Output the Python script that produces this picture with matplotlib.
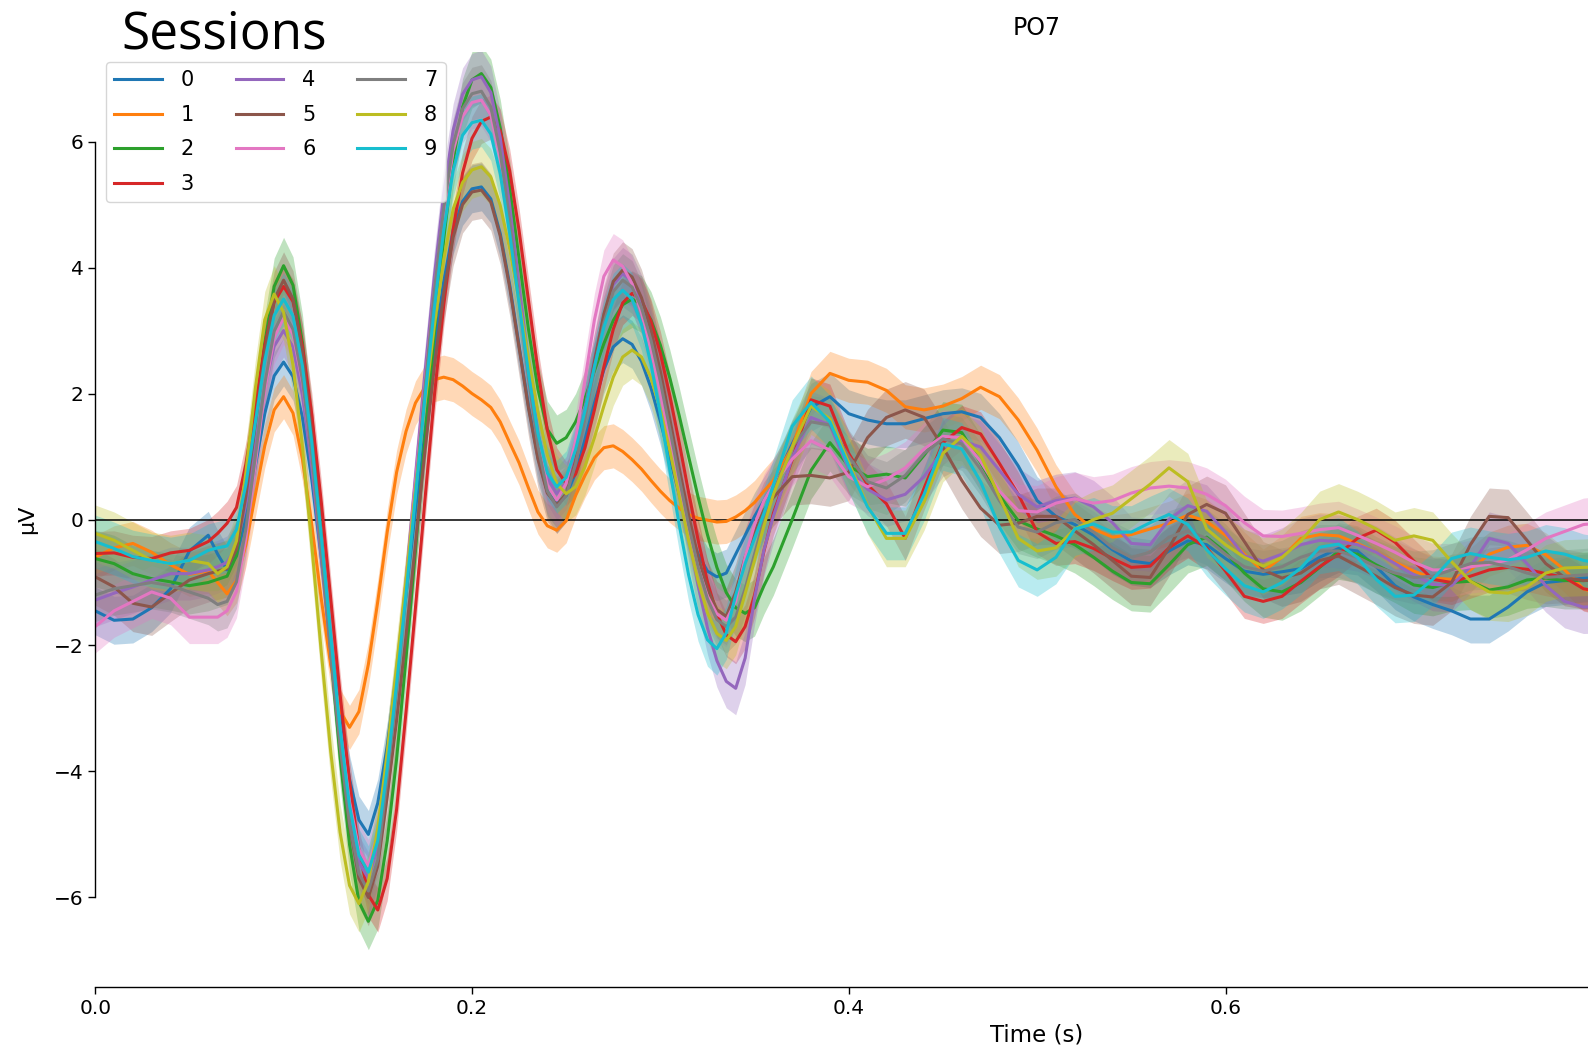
import numpy as np
import matplotlib
matplotlib.use("Agg")
import matplotlib.pyplot as plt

# ======================================================
# Data: mean ERP at PO7 per session (uV)
# sampling: 10 ms, 5 ms through the main components, 10 ms after
# ======================================================
times = np.concatenate([np.arange(0, 6) * 0.01,
                        np.arange(12, 72) * 0.005,
                        np.arange(36, 81) * 0.01])

session_labels = ["0", "1", "2", "3", "4", "5", "6", "7", "8", "9"]

s0 = [-1.45, -1.6, -1.58, -1.4, -1.1, -0.5,
      -0.25, -0.55, -0.8, -0.58, 0.03, 0.85, 1.68, 2.28, 2.5, 2.27,
      1.62, 0.63, -0.6, -1.9, -3.13, -4.12, -4.77, -5.0, -4.5, -3.6,
      -2.43, -1.19, 0.14, 1.47, 2.71, 3.77, 4.59, 5.05, 5.25, 5.28,
      5.09, 4.54, 3.73, 2.76, 1.8, 0.99, 0.44, 0.25, 0.38, 0.74,
      1.27, 1.85, 2.38, 2.74, 2.87, 2.78, 2.51, 2.09, 1.56, 0.98,
      0.4, -0.13, -0.55, -0.82, -0.91, -0.85, -0.55, -0.25, 0.05, 0.3,
      0.55, 1.2, 1.78, 1.95, 1.68, 1.58, 1.52, 1.52, 1.6, 1.68,
      1.71, 1.62, 1.3, 0.85, 0.3, 0.05, -0.08, -0.25, -0.48, -0.66,
      -0.7, -0.5, -0.34, -0.4, -0.62, -0.82, -0.87, -0.83, -0.78, -0.6,
      -0.46, -0.5, -0.75, -1.05, -1.23, -1.35, -1.45, -1.58, -1.58, -1.39,
      -1.15, -1.0, -0.97, -0.93, -0.92]
s1 = [-0.6, -0.45, -0.38, -0.52, -0.72, -0.87,
      -0.82, -1.0, -1.18, -0.97, -0.4, 0.39, 1.17, 1.74, 1.95, 1.69,
      0.96, -0.09, -1.26, -2.31, -3.04, -3.3, -3.05, -2.3, -1.3, -0.2,
      0.75, 1.4, 1.85, 2.1, 2.22, 2.26, 2.22, 2.12, 2.0, 1.9,
      1.78, 1.55, 1.22, 0.9, 0.5, 0.12, -0.1, -0.17, -0.02, 0.38,
      0.7, 0.98, 1.14, 1.17, 1.08, 0.95, 0.8, 0.62, 0.45, 0.3,
      0.18, 0.08, 0.02, -0.01, -0.04, -0.03, 0.04, 0.14, 0.27, 0.45,
      0.62, 1.15, 2.0, 2.32, 2.21, 2.18, 2.05, 1.79, 1.74, 1.8,
      1.92, 2.1, 1.95, 1.58, 1.1, 0.52, 0.08, -0.15, -0.28, -0.24,
      -0.15, -0.06, 0.07, -0.03, -0.25, -0.55, -0.82, -0.6, -0.3, -0.24,
      -0.26, -0.38, -0.52, -0.68, -0.82, -0.93, -0.95, -0.8, -0.55, -0.44,
      -0.41, -0.56, -0.8, -1.1, -1.2]
s2 = [-0.62, -0.7, -0.86, -0.94, -0.99, -1.05,
      -1.0, -0.95, -0.9, -0.57, 0.33, 1.57, 2.8, 3.7, 4.03, 3.72,
      2.81, 1.43, -0.27, -2.08, -3.78, -5.16, -6.07, -6.38, -6.05, -5.1,
      -3.8, -2.2, -0.5, 1.25, 2.95, 4.45, 5.7, 6.55, 6.98, 7.08,
      6.86, 6.22, 5.27, 4.14, 3.02, 2.07, 1.43, 1.21, 1.3, 1.55,
      1.92, 2.36, 2.79, 3.16, 3.41, 3.5, 3.42, 3.17, 2.77, 2.25,
      1.65, 1.0, 0.36, -0.24, -0.76, -1.16, -1.4, -1.49, -1.4, -1.05,
      -0.75, 0.0, 0.78, 1.22, 0.85, 0.68, 0.72, 0.66, 1.02, 1.42,
      1.38, 0.9, 0.38, -0.02, -0.15, -0.26, -0.4, -0.6, -0.82, -1.0,
      -1.02, -0.72, -0.4, -0.28, -0.52, -0.85, -1.1, -1.15, -1.0, -0.76,
      -0.5, -0.55, -0.72, -0.87, -1.04, -1.08, -1.0, -0.98, -1.12, -1.07,
      -0.96, -0.93, -0.97, -0.97, -0.96]
s3 = [-0.54, -0.53, -0.6, -0.62, -0.53, -0.49,
      -0.35, -0.22, -0.06, 0.19, 0.88, 1.82, 2.76, 3.45, 3.7, 3.46,
      2.75, 1.66, 0.28, -1.25, -2.78, -4.16, -5.25, -5.96, -6.2, -5.7,
      -4.6, -3.05, -1.4, 0.3, 1.95, 3.4, 4.6, 5.5, 6.05, 6.32,
      6.39, 6.17, 5.54, 4.59, 3.48, 2.37, 1.42, 0.79, 0.57, 0.72,
      1.14, 1.74, 2.42, 3.02, 3.44, 3.59, 3.48, 3.15, 2.64, 1.97,
      1.22, 0.43, -0.32, -0.99, -1.5, -1.83, -1.94, -1.7, -1.2, -0.5,
      0.1, 0.95, 1.9, 1.8, 1.05, 0.55, 0.25, -0.3, 0.5, 1.22,
      1.46, 1.36, 0.89, 0.4, -0.2, -0.38, -0.35, -0.46, -0.62, -0.76,
      -0.74, -0.45, -0.26, -0.45, -0.82, -1.22, -1.3, -1.22, -0.98, -0.75,
      -0.55, -0.3, -0.17, -0.36, -0.66, -0.95, -1.0, -0.9, -0.8, -0.76,
      -0.79, -0.86, -0.92, -1.1, -1.15]
s4 = [-1.28, -1.17, -1.07, -0.96, -0.86, -0.86,
      -0.8, -0.75, -0.68, -0.43, 0.24, 1.16, 2.08, 2.75, 3.0, 2.74,
      1.98, 0.82, -0.59, -2.11, -3.53, -4.68, -5.44, -5.7, -5.2, -3.95,
      -2.52, -0.98, 0.67, 2.31, 3.85, 5.17, 6.18, 6.75, 6.98, 7.03,
      6.78, 6.06, 4.99, 3.72, 2.45, 1.38, 0.66, 0.41, 0.58, 1.07,
      1.77, 2.54, 3.24, 3.73, 3.9, 3.79, 3.46, 2.94, 2.25, 1.46,
      0.61, -0.24, -1.04, -1.72, -2.24, -2.57, -2.68, -2.2, -1.25, -0.48,
      0.05, 0.98, 1.62, 1.5, 0.8, 0.48, 0.31, 0.4, 0.68, 1.1,
      1.25, 1.15, 0.78, 0.4, 0.2, 0.3, 0.34, 0.2, -0.05, -0.38,
      -0.4, 0.0, 0.22, 0.13, -0.2, -0.58, -0.66, -0.55, -0.4, -0.33,
      -0.35, -0.4, -0.52, -0.7, -0.88, -1.03, -1.05, -0.75, -0.3, -0.38,
      -0.7, -1.05, -1.3, -1.39, -1.38]
s5 = [-0.91, -1.07, -1.33, -1.39, -1.17, -0.96,
      -0.86, -0.82, -0.78, -0.47, 0.37, 1.51, 2.66, 3.49, 3.8, 3.5,
      2.65, 1.35, -0.25, -1.95, -3.55, -4.85, -5.7, -6.0, -5.5, -4.4,
      -3.19, -1.84, -0.38, 1.07, 2.42, 3.59, 4.48, 5.0, 5.2, 5.23,
      5.04, 4.5, 3.69, 2.73, 1.77, 0.96, 0.42, 0.23, 0.41, 0.93,
      1.68, 2.51, 3.26, 3.78, 3.96, 3.85, 3.52, 3.01, 2.35, 1.6,
      0.82, 0.07, -0.59, -1.1, -1.43, -1.54, -1.15, -0.6, -0.2, 0.15,
      0.35, 0.68, 0.7, 0.66, 0.75, 1.3, 1.62, 1.74, 1.62, 1.15,
      0.62, 0.18, -0.09, -0.06, 0.05, 0.05, -0.18, -0.4, -0.65, -0.9,
      -0.92, -0.45, 0.08, 0.24, 0.1, -0.35, -0.8, -0.93, -0.85, -0.65,
      -0.58, -0.74, -0.9, -1.08, -1.2, -1.23, -1.0, -0.4, 0.05, 0.03,
      -0.33, -0.7, -0.92, -0.97, -0.95]
s6 = [-1.7, -1.45, -1.3, -1.15, -1.25, -1.55,
      -1.55, -1.55, -1.45, -1.14, -0.29, 0.88, 2.04, 2.89, 3.2, 2.94,
      2.18, 1.02, -0.39, -1.91, -3.33, -4.48, -5.24, -5.5, -5.0, -3.8,
      -2.46, -0.99, 0.58, 2.15, 3.62, 4.88, 5.85, 6.4, 6.62, 6.66,
      6.42, 5.73, 4.7, 3.48, 2.27, 1.24, 0.55, 0.31, 0.57, 1.26,
      2.22, 3.17, 3.86, 4.12, 4.02, 3.74, 3.28, 2.69, 2.0, 1.26,
      0.52, -0.17, -0.76, -1.22, -1.5, -1.6, -1.3, -0.6, -0.08, 0.3,
      0.55, 0.96, 1.25, 1.1, 0.68, 0.52, 0.64, 0.82, 1.12, 1.32,
      1.3, 0.92, 0.45, 0.14, 0.12, 0.26, 0.33, 0.26, 0.3, 0.42,
      0.5, 0.53, 0.5, 0.4, 0.22, -0.05, -0.26, -0.27, -0.22, -0.16,
      -0.13, -0.25, -0.38, -0.52, -0.68, -0.8, -0.8, -0.75, -0.71, -0.64,
      -0.48, -0.3, -0.19, -0.08, -0.05]
s7 = [-1.2, -1.1, -1.05, -1.0, -1.05, -1.15,
      -1.25, -1.35, -1.3, -0.99, -0.15, 1.0, 2.15, 2.99, 3.3, 3.02,
      2.22, 1.0, -0.5, -2.1, -3.6, -4.82, -5.62, -5.9, -5.4, -4.1,
      -2.72, -1.19, 0.45, 2.09, 3.63, 4.94, 5.95, 6.52, 6.76, 6.8,
      6.55, 5.83, 4.76, 3.5, 2.24, 1.17, 0.45, 0.2, 0.38, 0.88,
      1.6, 2.4, 3.12, 3.62, 3.8, 3.69, 3.36, 2.85, 2.19, 1.44,
      0.66, -0.09, -0.75, -1.26, -1.59, -1.7, -1.55, -1.1, -0.55, 0.0,
      0.45, 1.15, 1.55, 1.5, 1.0, 0.6, 0.5, 0.7, 1.05, 1.28,
      1.2, 0.8, 0.3, -0.12, -0.2, -0.05, 0.0, -0.2, -0.45, -0.6,
      -0.52, -0.28, -0.18, -0.3, -0.55, -0.75, -0.82, -0.75, -0.6, -0.5,
      -0.5, -0.6, -0.75, -0.85, -0.92, -0.9, -0.8, -0.7, -0.68, -0.75,
      -0.85, -0.92, -0.9, -0.88, -0.86]
s8 = [-0.22, -0.33, -0.49, -0.65, -0.7, -0.65,
      -0.7, -0.86, -0.75, -0.34, 0.75, 2.08, 3.17, 3.58, 3.29, 2.45,
      1.16, -0.42, -2.1, -3.68, -4.97, -5.81, -6.1, -5.75, -4.9, -3.7,
      -2.32, -0.96, 0.46, 1.82, 3.07, 4.13, 4.93, 5.35, 5.55, 5.6,
      5.44, 4.99, 4.3, 3.46, 2.55, 1.71, 1.02, 0.57, 0.41, 0.52,
      0.84, 1.3, 1.8, 2.26, 2.58, 2.69, 2.58, 2.25, 1.74, 1.1,
      0.38, -0.33, -0.97, -1.48, -1.81, -1.92, -1.7, -1.18, -0.65, -0.1,
      0.4, 1.15, 1.8, 1.6, 0.9, 0.22, -0.3, -0.3, 0.28, 1.05,
      1.32, 1.02, 0.36, -0.3, -0.5, -0.45, -0.15, 0.0, 0.1, 0.33,
      0.56, 0.82, 0.6, -0.15, -0.4, -0.6, -0.74, -0.6, -0.34, 0.0,
      0.12, 0.0, -0.15, -0.33, -0.26, -0.33, -0.67, -0.98, -1.15, -1.17,
      -1.07, -0.85, -0.77, -0.76, -0.75]
s9 = [-0.35, -0.46, -0.59, -0.65, -0.7, -0.65,
      -0.49, -0.45, -0.42, -0.16, 0.56, 1.54, 2.52, 3.24, 3.5, 3.23,
      2.44, 1.22, -0.26, -1.84, -3.33, -4.54, -5.33, -5.6, -5.1, -3.95,
      -2.61, -1.18, 0.37, 1.92, 3.35, 4.59, 5.54, 6.1, 6.3, 6.34,
      6.12, 5.49, 4.54, 3.43, 2.32, 1.37, 0.74, 0.52, 0.67, 1.11,
      1.73, 2.43, 3.05, 3.49, 3.64, 3.5, 3.1, 2.47, 1.67, 0.79,
      -0.08, -0.88, -1.51, -1.91, -2.05, -1.8, -1.2, -0.7, -0.3, 0.1,
      0.55, 1.48, 1.86, 1.55, 0.85, 0.2, -0.22, -0.22, 0.4, 1.2,
      1.12, 0.6, -0.12, -0.65, -0.8, -0.6, -0.15, -0.07, -0.2, -0.2,
      -0.05, 0.08, -0.08, -0.48, -0.78, -1.05, -1.15, -1.0, -0.77, -0.44,
      -0.39, -0.6, -0.95, -1.22, -1.2, -0.95, -0.62, -0.54, -0.6, -0.64,
      -0.6, -0.5, -0.55, -0.65, -0.7]

# half width of the confidence band per session (uV)
ci_halfwidth = [0.38, 0.35, 0.45, 0.35, 0.42, 0.45, 0.42, 0.42, 0.45, 0.42]

sessions = [s0, s1, s2, s3, s4, s5, s6, s7, s8, s9]
colors = plt.get_cmap("tab10").colors

# ======================================================
# PLOT
# ======================================================
fig = plt.figure(figsize=(15.88, 10.60), dpi=100)
# axes run to 1.0 s, the picture is cut off at about 0.79 s
ax = fig.add_axes([0.05995, 0.0684, 1.1863, 0.883])

handles = []
for i, vals in enumerate(sessions):
    y = np.array(vals)
    ax.fill_between(times, y - ci_halfwidth[i], y + ci_halfwidth[i],
                    color=colors[i], alpha=0.3, lw=0, zorder=1)
    ln, = ax.plot(times, y, color=colors[i], lw=2.2, zorder=2,
                  solid_joinstyle="round")
    handles.append(ln)

ax.axhline(0, color="k", lw=1.1, zorder=1.5)

ax.set_xlim(0, 1.0)
ax.set_ylim(-7.43, 7.43)
ax.set_xticks([0.0, 0.2, 0.4, 0.6, 0.8, 1.0])
ax.set_xticklabels(["0.0", "0.2", "0.4", "0.6", "0.8", "1.0"])
ax.set_yticks([-6, -4, -2, 0, 2, 4, 6])
ax.tick_params(labelsize=14.5, length=5, width=1.0)

for side in ["top", "right"]:
    ax.spines[side].set_visible(False)
ax.spines["left"].set_bounds(-6, 6)
ax.spines["bottom"].set_bounds(0, 1.0)
ax.spines["left"].set_linewidth(1.0)
ax.spines["bottom"].set_linewidth(1.0)

ax.set_xlabel("Time (s)", fontsize=16.5)
ax.set_ylabel("µV", fontsize=16, labelpad=12)
ax.set_title("PO7", fontsize=17, pad=12)

ax.legend(handles, session_labels, loc="upper left", ncol=3, fontsize=15,
          labelspacing=0.7, handlelength=2.3, handletextpad=0.9,
          columnspacing=2.0)

fig.text(0.0765, 0.954, "Sessions", fontsize=37, family="Open Sans",
         va="baseline")

plt.savefig("out.png", dpi=100)
